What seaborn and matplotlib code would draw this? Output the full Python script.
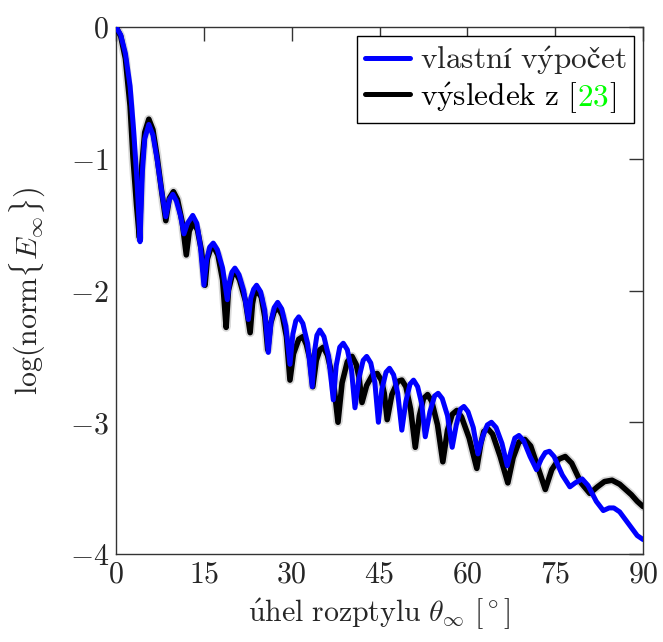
import matplotlib
matplotlib.use("Agg")
import matplotlib.pyplot as plt
import seaborn as sns
import pandas as pd
from matplotlib.offsetbox import HPacker, TextArea

# ---- data ----
blue_x = [0, 0.8, 1.6, 2.4, 3.0, 3.6, 4.1, 4.5, 4.9, 5.6, 6.3, 7.0, 7.8, 8.5, 9.1,
          9.7, 10.3, 11.0, 11.6, 12.2, 13.1, 13.8, 14.4, 15.0, 15.5, 16.0, 16.6,
          17.3, 18.2, 19.0, 19.4, 19.8, 20.3, 21.0, 21.8, 22.6, 23.0, 23.5, 24.0,
          24.7, 25.4, 26.0, 26.5, 27.0, 27.6, 28.3, 29.0, 29.7, 30.2, 30.7, 31.2,
          31.9, 32.7, 33.5, 33.9, 34.3, 34.8, 35.5, 36.3, 37.1, 37.6, 38.2, 38.8,
          39.5, 40.2, 40.8, 41.5, 42.2, 42.8, 43.5, 44.2, 44.8, 45.4, 46.1, 46.7,
          47.4, 48.1, 48.8, 49.5, 50.2, 50.8, 51.5, 52.2, 52.8, 53.6, 54.4, 55.0,
          55.7, 56.6, 57.4, 58.1, 58.8, 59.4, 60.1, 61.0, 61.8, 62.6, 63.4, 64.1,
          64.9, 65.9, 66.8, 67.5, 68.1, 68.8, 69.6, 70.7, 71.8, 72.6, 73.3, 74.0,
          74.8, 76.2, 77.5, 78.4, 79.6, 80.6, 82.0, 83.2, 84.2, 85.0, 86.0, 87.0,
          88.0, 89.0, 90.0]
blue_y = [0, -0.06, -0.20, -0.45, -0.78, -1.18, -1.63, -1.10, -0.85, -0.74, -0.82,
          -1.00, -1.25, -1.44, -1.31, -1.27, -1.32, -1.43, -1.57, -1.49, -1.43,
          -1.49, -1.66, -1.96, -1.76, -1.67, -1.64, -1.69, -1.83, -2.07, -1.93,
          -1.86, -1.83, -1.88, -2.00, -2.22, -2.06, -1.99, -1.96, -2.01, -2.15,
          -2.47, -2.23, -2.13, -2.09, -2.14, -2.27, -2.56, -2.33, -2.23, -2.20,
          -2.25, -2.40, -2.73, -2.46, -2.34, -2.30, -2.35, -2.50, -2.83, -2.57,
          -2.43, -2.40, -2.45, -2.60, -2.89, -2.66, -2.53, -2.50, -2.55, -2.70,
          -3.00, -2.75, -2.62, -2.59, -2.64, -2.78, -3.06, -2.84, -2.71, -2.68,
          -2.73, -2.86, -3.11, -2.92, -2.80, -2.78, -2.82, -2.95, -3.19, -3.02,
          -2.90, -2.88, -2.92, -3.04, -3.24, -3.11, -3.02, -3.00, -3.04, -3.16,
          -3.33, -3.21, -3.12, -3.10, -3.14, -3.26, -3.36, -3.28, -3.23, -3.22,
          -3.26, -3.40, -3.49, -3.46, -3.43, -3.48, -3.60, -3.67, -3.65, -3.65,
          -3.68, -3.74, -3.80, -3.86, -3.89]

black_x = [0, 0.8, 1.6, 2.4, 2.9, 3.5, 4.0, 4.4, 4.9, 5.6, 6.3, 7.0, 7.8, 8.5, 9.1,
           9.8, 10.5, 11.3, 12.0, 12.5, 13.2, 13.9, 14.6, 15.2, 15.6, 16.1, 16.7,
           17.4, 18.2, 18.8, 19.2, 19.8, 20.4, 21.1, 22.1, 22.9, 23.3, 23.6, 24.1,
           24.8, 25.4, 25.9, 26.4, 27.0, 27.7, 28.4, 29.1, 29.7, 30.3, 31.2, 31.9,
           32.5, 33.1, 33.6, 34.2, 34.8, 35.4, 36.1, 37.1, 37.9, 38.6, 39.5, 40.3,
           41.0, 41.5, 42.0, 42.8, 43.8, 44.6, 45.3, 45.8, 46.3, 47.1, 48.1, 48.8,
           49.5, 50.3, 51.1, 51.8, 52.5, 53.2, 53.9, 54.9, 55.8, 56.6, 57.4, 58.2,
           59.0, 60.3, 61.6, 62.3, 62.8, 63.5, 64.3, 65.6, 66.9, 67.8, 68.8, 69.8,
           70.8, 72.1, 73.3, 74.4, 75.6, 76.7, 77.8, 79.4, 80.9, 82.2, 83.4, 84.7,
           86.0, 87.0, 88.0, 89.0, 90.0]
black_y = [0, -0.07, -0.24, -0.60, -0.99, -1.35, -1.60, -1.05, -0.80, -0.70, -0.78,
           -0.98, -1.25, -1.47, -1.30, -1.25, -1.31, -1.48, -1.73, -1.55, -1.48,
           -1.54, -1.70, -1.96, -1.76, -1.69, -1.67, -1.73, -1.92, -2.28, -2.00,
           -1.89, -1.86, -1.92, -2.08, -2.32, -2.10, -2.03, -2.00, -2.05, -2.20,
           -2.45, -2.25, -2.16, -2.13, -2.19, -2.35, -2.68, -2.48, -2.37, -2.35,
           -2.41, -2.52, -2.73, -2.53, -2.45, -2.43, -2.49, -2.68, -3.00, -2.70,
           -2.54, -2.50, -2.56, -2.66, -2.85, -2.72, -2.64, -2.63, -2.68, -2.78,
           -2.98, -2.79, -2.69, -2.68, -2.73, -2.90, -3.19, -2.95, -2.82, -2.79,
           -2.84, -3.02, -3.30, -3.06, -2.94, -2.91, -2.96, -3.12, -3.35, -3.16,
           -3.07, -3.05, -3.09, -3.26, -3.46, -3.27, -3.15, -3.13, -3.18, -3.35,
           -3.51, -3.36, -3.28, -3.26, -3.31, -3.46, -3.54, -3.49, -3.45, -3.44,
           -3.47, -3.51, -3.55, -3.60, -3.64]

x_ticks = [0, 15, 30, 45, 60, 75, 90]
x_tick_labels = [r'$0$', r'$15$', r'$30$', r'$45$', r'$60$', r'$75$', r'$90$']
y_ticks = [-4, -3, -2, -1, 0]
y_tick_labels = [r'$-4$', r'$-3$', r'$-2$', r'$-1$', r'$0$']

label_blue = r'$\mathrm{vlastní\ v\acute{y}počet}$'
label_black_a = r'$\mathrm{v\acute{y}sledek\ z\ [}$'
label_black_b = r'$\mathrm{23}$'
label_black_c = r'$\mathrm{]}$'
x_label = r'$\mathrm{\acute{u}hel\ rozptylu}\ \theta_\infty\ [^\circ]$'
y_label = r'$\log(\mathrm{norm}\{E_\infty\})$'

# ---- plotting ----
sns.set_style("white")
plt.rcParams['mathtext.fontset'] = 'cm'
plt.rcParams['font.family'] = ['DejaVu Serif']

FS = 21.5
LFS = 22.5
fig = plt.figure(figsize=(6.63, 6.42), dpi=100)
ax = fig.add_axes([0.175, 0.137, 0.795, 0.821])

df_blue = pd.DataFrame({'x': blue_x, 'y': blue_y})
df_black = pd.DataFrame({'x': black_x, 'y': black_y})

# soft halo for the blurry black reference curve
sns.lineplot(data=df_black, x='x', y='y', ax=ax, color='black', lw=6.5, alpha=0.15,
             sort=False, estimator=None, zorder=2)
sns.lineplot(data=df_black, x='x', y='y', ax=ax, color='black', lw=4.0,
             sort=False, estimator=None, zorder=3, label='black')
sns.lineplot(data=df_blue, x='x', y='y', ax=ax, color='#0000ff', lw=3.6,
             sort=False, estimator=None, zorder=4, label='blue')

ax.set_xlim(0, 90)
ax.set_ylim(-4, 0)
ax.set_xticks(x_ticks)
ax.set_xticklabels(x_tick_labels)
ax.set_yticks(y_ticks)
ax.set_yticklabels(y_tick_labels)
ax.tick_params(direction='in', length=10, width=1.0, color='#333333',
               top=True, right=True, labelsize=FS, pad=5)
for s in ax.spines.values():
    s.set_color('#333333')
    s.set_linewidth(1.0)
ax.set_xlabel(x_label, fontsize=FS, labelpad=5)
ax.set_ylabel(y_label, fontsize=FS, labelpad=16)

handles, labels = ax.get_legend_handles_labels()
hb = handles[labels.index('blue')]
hk = handles[labels.index('black')]
leg = ax.legend([hb, hk], [label_blue, label_black_a + 'x'], loc='upper right',
                fontsize=LFS, frameon=True, fancybox=False, edgecolor='black',
                framealpha=1, handlelength=1.45, handletextpad=0.3,
                borderpad=0.25, labelspacing=0.1, borderaxespad=0.3)
leg.get_frame().set_linewidth(1.0)
for ln in leg.get_lines():
    ln.set_linewidth(3.6)
    ln.set_alpha(1)

# replace second label with multi-coloured text
col = leg._legend_handle_box.get_children()[0]
row2 = col.get_children()[1]
tp = dict(fontsize=LFS, color='black')
new_box = HPacker(children=[TextArea(label_black_a, textprops=tp),
                            TextArea(label_black_b, textprops=dict(fontsize=LFS, color='#00ff00')),
                            TextArea(label_black_c, textprops=tp)],
                  pad=0, sep=0, align='baseline')
new_box.set_figure(fig)
for c in new_box.get_children():
    c.set_figure(fig)
    for cc in c.get_children():
        cc.set_figure(fig)
row2._children[1] = new_box

fig.savefig('out.png', dpi=100)
